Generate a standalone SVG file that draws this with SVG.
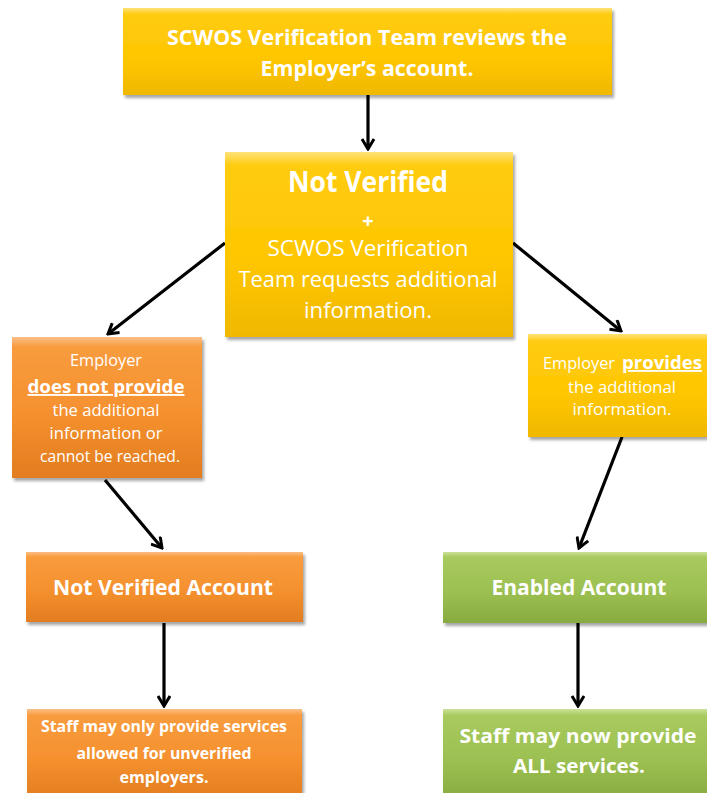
<svg xmlns="http://www.w3.org/2000/svg" width="707" height="793" viewBox="0 0 707 793">
<defs>
<linearGradient id="gY" x1="0" y1="0" x2="0" y2="1">
<stop offset="0" stop-color="#FFE27A"/>
<stop offset="0.07" stop-color="#FFCC12"/>
<stop offset="0.6" stop-color="#FEC600"/>
<stop offset="1" stop-color="#F0B800"/>
</linearGradient>
<linearGradient id="gO" x1="0" y1="0" x2="0" y2="1">
<stop offset="0" stop-color="#FBBE86"/>
<stop offset="0.07" stop-color="#F89C3E"/>
<stop offset="0.55" stop-color="#F5902E"/>
<stop offset="1" stop-color="#E27D20"/>
</linearGradient>
<linearGradient id="gG" x1="0" y1="0" x2="0" y2="1">
<stop offset="0" stop-color="#CCE29A"/>
<stop offset="0.07" stop-color="#A8CA5E"/>
<stop offset="0.55" stop-color="#9DC052"/>
<stop offset="1" stop-color="#88AB40"/>
</linearGradient>
<filter id="sh" x="-10%" y="-10%" width="120%" height="130%">
<feDropShadow dx="2" dy="3" stdDeviation="1.8" flood-color="#000" flood-opacity="0.35"/>
</filter>
<marker id="ah" viewBox="0 0 14 14" refX="12" refY="7" markerWidth="14" markerHeight="14" markerUnits="userSpaceOnUse" orient="auto">
<path d="M2,1 L12,7 L2,13" fill="none" stroke="#000" stroke-width="3" stroke-linejoin="miter"/>
</marker>
<style>
.box{filter:url(#sh)}
.t{fill:#fff;font-family:"Open Sans",Lato,"Liberation Sans",sans-serif;text-anchor:middle}
.b{font-weight:bold}
.c{fill:none;stroke:#000;stroke-width:3.2;marker-end:url(#ah)}
</style>
</defs>

<g id="connectors">
<line class="c" x1="368" y1="95" x2="368" y2="149"/>
<line class="c" x1="225" y1="243" x2="108" y2="334"/>
<line class="c" x1="513" y1="243" x2="621" y2="331"/>
<line class="c" x1="105" y1="480" x2="162" y2="548"/>
<line class="c" x1="622" y1="437" x2="579" y2="548"/>
<line class="c" x1="164" y1="623" x2="164" y2="706"/>
<line class="c" x1="578" y1="623" x2="578" y2="706"/>
</g>

<g id="n1">
<rect class="box" x="123" y="8" width="489" height="87" fill="url(#gY)"/>
<text class="t b" x="367" y="45" font-size="22" textLength="400" lengthAdjust="spacingAndGlyphs">SCWOS Verification Team reviews the</text>
<text class="t b" x="367" y="76" font-size="22" textLength="213" lengthAdjust="spacingAndGlyphs">Employer’s account.</text>
</g>

<g id="n2">
<rect class="box" x="225" y="152" width="288" height="185" fill="url(#gY)"/>
<text class="t b" x="368" y="192" font-size="28" textLength="160" lengthAdjust="spacingAndGlyphs">Not Verified</text>
<text class="t b" x="368" y="228" font-size="20">+</text>
<text class="t" x="368" y="256" font-size="22" textLength="201" lengthAdjust="spacingAndGlyphs">SCWOS Verification</text>
<text class="t" x="368" y="287" font-size="22" textLength="259" lengthAdjust="spacingAndGlyphs">Team requests additional</text>
<text class="t" x="368" y="318" font-size="22" textLength="128" lengthAdjust="spacingAndGlyphs">information.</text>
</g>

<g id="n3">
<rect class="box" x="12" y="337" width="190" height="141" fill="url(#gO)"/>
<text class="t" x="106" y="366" font-size="16" textLength="72" lengthAdjust="spacingAndGlyphs">Employer</text>
<text class="t b" x="106" y="393" font-size="18.5" text-decoration="underline" textLength="157" lengthAdjust="spacingAndGlyphs">does not provide</text>
<text class="t" x="106" y="416" font-size="16" textLength="107" lengthAdjust="spacingAndGlyphs">the additional</text>
<text class="t" x="106" y="439" font-size="16" textLength="113" lengthAdjust="spacingAndGlyphs">information or</text>
<text class="t" x="110" y="462" font-size="16" textLength="140" lengthAdjust="spacingAndGlyphs">cannot be reached.</text>
</g>

<g id="n4">
<rect class="box" x="528" y="334" width="184" height="103" fill="url(#gY)"/>
<text class="t" x="579" y="369" font-size="16" textLength="72" lengthAdjust="spacingAndGlyphs">Employer</text>
<text class="t b" x="662" y="369" font-size="18.5" text-decoration="underline" textLength="80" lengthAdjust="spacingAndGlyphs">provides</text>
<text class="t" x="622" y="393" font-size="16" textLength="108" lengthAdjust="spacingAndGlyphs">the additional</text>
<text class="t" x="622" y="415" font-size="16" textLength="99" lengthAdjust="spacingAndGlyphs">information.</text>
</g>

<g id="n5">
<rect class="box" x="26" y="552" width="277" height="70" fill="url(#gO)"/>
<text class="t b" x="163" y="595" font-size="21" textLength="220" lengthAdjust="spacingAndGlyphs">Not Verified Account</text>
</g>

<g id="n6">
<rect class="box" x="443" y="552" width="269" height="71" fill="url(#gG)"/>
<text class="t b" x="579" y="595" font-size="21" textLength="175" lengthAdjust="spacingAndGlyphs">Enabled Account</text>
</g>

<g id="n7">
<rect class="box" x="27" y="709" width="275" height="92" fill="url(#gO)"/>
<text class="t b" x="164" y="732" font-size="15.5" textLength="246" lengthAdjust="spacingAndGlyphs">Staff may only provide services</text>
<text class="t b" x="164" y="759" font-size="15.5" textLength="175" lengthAdjust="spacingAndGlyphs">allowed for unverified</text>
<text class="t b" x="164" y="783" font-size="15.5" textLength="89" lengthAdjust="spacingAndGlyphs">employers.</text>
</g>

<g id="n8">
<rect class="box" x="443" y="709" width="269" height="92" fill="url(#gG)"/>
<text class="t b" x="578" y="743" font-size="20" textLength="237" lengthAdjust="spacingAndGlyphs">Staff may now provide</text>
<text class="t b" x="579" y="773" font-size="20" textLength="132" lengthAdjust="spacingAndGlyphs">ALL services.</text>
</g>
</svg>
